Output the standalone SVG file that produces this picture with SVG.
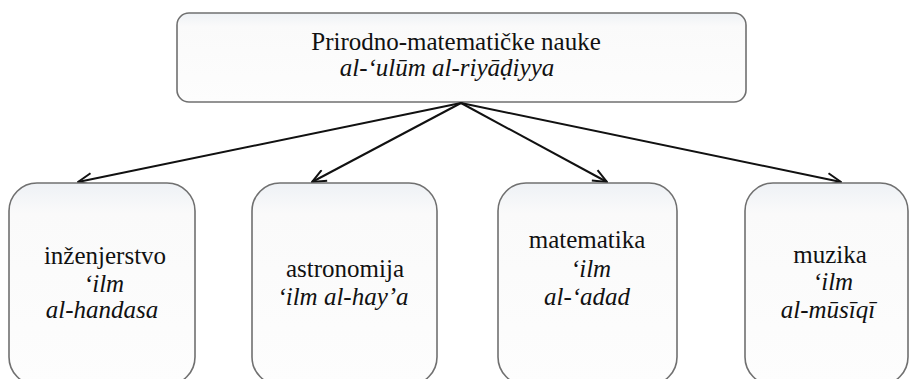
<svg xmlns="http://www.w3.org/2000/svg" width="909" height="379" viewBox="0 0 909 379">
<defs>
<linearGradient id="fillg" x1="0" y1="0" x2="0" y2="1">
<stop offset="0" stop-color="#eef1f5"/>
<stop offset="0.15" stop-color="#fafafa"/>
<stop offset="1" stop-color="#fdfdfd"/>
</linearGradient>
<marker id="arr" viewBox="0 0 16 14" refX="15" refY="7" markerWidth="16" markerHeight="14" markerUnits="userSpaceOnUse" orient="auto">
<path d="M1,1 L15,7 L1,13" fill="none" stroke="#111" stroke-width="2"/>
</marker>
</defs>
<style>
.box{fill:url(#fillg);stroke:#707070;stroke-width:1.6}
text{font-family:'Liberation Serif','Times New Roman',serif;font-size:25px;fill:#111;text-anchor:middle}
.i{font-style:italic}
.c{stroke:#111;stroke-width:2;fill:none;marker-end:url(#arr)}
</style>
<rect width="909" height="379" fill="#ffffff"/>
<g id="top">
<rect class="box" x="177" y="13" width="569" height="89" rx="12"/>
<text x="456" y="50">Prirodno-matematičke nauke</text>
<text class="i" x="447" y="76">al-‘ulūm al-riyāḍiyya</text>
</g>
<g id="connectors">
<line class="c" x1="461" y1="103" x2="78" y2="182"/>
<line class="c" x1="461" y1="103" x2="312" y2="182"/>
<line class="c" x1="461" y1="103" x2="607" y2="182"/>
<line class="c" x1="461" y1="103" x2="841" y2="182"/>
</g>
<g id="n1">
<rect class="box" x="9" y="183" width="186" height="202" rx="28"/>
<text x="105" y="264">inženjerstvo</text>
<text class="i" x="104" y="292">‘ilm</text>
<text class="i" x="102" y="318">al-handasa</text>
</g>
<g id="n2">
<rect class="box" x="252" y="183" width="185" height="202" rx="28"/>
<text x="345" y="277">astronomija</text>
<text class="i" x="343" y="305">‘ilm al-hay’a</text>
</g>
<g id="n3">
<rect class="box" x="498" y="183" width="179" height="202" rx="28"/>
<text x="587" y="248">matematika</text>
<text class="i" x="591" y="277">‘ilm</text>
<text class="i" x="587" y="305">al-‘adad</text>
</g>
<g id="n4">
<rect class="box" x="745" y="183" width="163" height="202" rx="28"/>
<text x="830" y="263">muzika</text>
<text class="i" x="833" y="290">‘ilm</text>
<text class="i" x="828" y="318">al-mūsīqī</text>
</g>
</svg>
